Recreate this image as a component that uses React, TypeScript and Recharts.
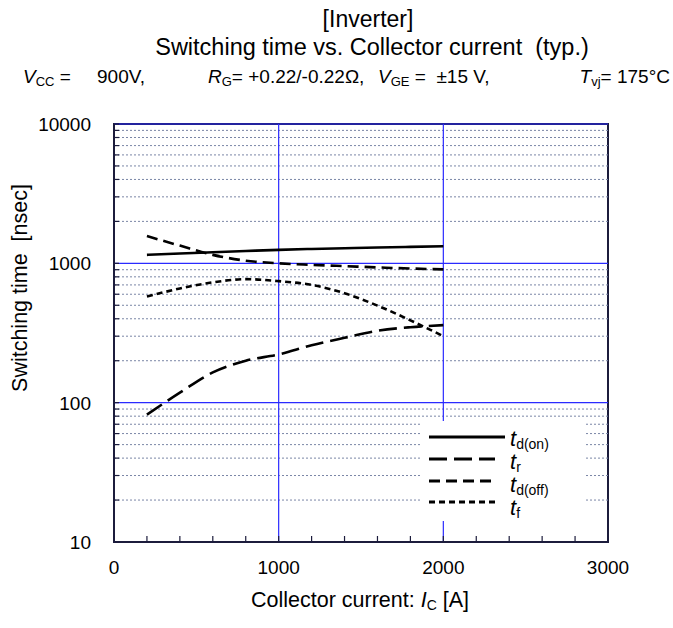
import React from 'react';
import {
  LineChart,
  Line,
  XAxis,
  YAxis,
  ReferenceLine,
  ReferenceArea,
  Legend,
} from 'recharts';

// collector current [A]
const currents = [200, 400, 600, 800, 1000, 1200, 1400, 1600, 1800, 2000];
// switching times [nsec]
const tdOn = [1150, 1175, 1200, 1225, 1250, 1268, 1283, 1298, 1312, 1325];
const tr = [82, 118, 165, 200, 222, 258, 292, 328, 348, 360];
const tdOff = [1570, 1340, 1150, 1045, 1000, 975, 955, 935, 918, 905];
const tf = [577, 660, 730, 770, 745, 700, 610, 497, 390, 300];

const xTicks = [0, 200, 400, 600, 800, 1000, 1200, 1400, 1600, 1800, 2000, 2200, 2400, 2600, 2800, 3000];
const xLabels = [0, 1000, 2000, 3000];
const yMajor = [10, 100, 1000, 10000];
const yMinor = [
  20, 30, 40, 50, 60, 70, 80, 90,
  200, 300, 400, 500, 600, 700, 800, 900,
  2000, 3000, 4000, 5000, 6000, 7000, 8000, 9000,
];
const xMajorGrid = [1000, 2000];

const series = [
  { key: 'tdOn', sub: 'd(on)', dash: undefined as string | undefined },
  { key: 'tr', sub: 'r', dash: '18 7' },
  { key: 'tdOff', sub: 'd(off)', dash: '11 6' },
  { key: 'tf', sub: 'f', dash: '6 4' },
];

const data = currents.map((ic, i) => ({
  ic,
  tdOn: tdOn[i],
  tr: tr[i],
  tdOff: tdOff[i],
  tf: tf[i],
}));

const FONT = '"Liberation Sans", Arial, sans-serif';
const BORDER = '#1c1c3c';
const MAJOR = '#2a2aff';
const MINOR = '#7a86a6';

function XTick({ x, y, payload }: any) {
  const show = xLabels.includes(payload.value);
  return (
    <g>
      <line x1={x} y1={y} x2={x} y2={y - 6} stroke={BORDER} strokeWidth={1.2} />
      {show && (
        <text x={x} y={y + 32} textAnchor="middle" fontSize={19} fill="#000" fontFamily={FONT}>
          {payload.value}
        </text>
      )}
    </g>
  );
}

function YTick({ x, y, payload }: any) {
  const show = yMajor.includes(payload.value);
  return (
    <g>
      <line x1={x} y1={y} x2={x + 5} y2={y} stroke={BORDER} strokeWidth={1.2} />
      {show && (
        <text x={x - 23} y={y + 7} textAnchor="end" fontSize={19} fill="#000" fontFamily={FONT}>
          {payload.value}
        </text>
      )}
    </g>
  );
}

function LegendBox() {
  const rows = [
    { y: 16, x2: 85, ty: 25 },
    { y: 38, x2: 75, ty: 48 },
    { y: 60, x2: 77, ty: 71 },
    { y: 81, x2: 78, ty: 94 },
  ];
  return (
    <div style={{ width: 165, height: 100, background: '#fff' }}>
      <svg width={165} height={100}>
        {series.map((s, i) => (
          <g key={s.key}>
            <line
              x1={9}
              x2={rows[i].x2}
              y1={rows[i].y}
              y2={rows[i].y}
              stroke="#000"
              strokeWidth={3}
              strokeDasharray={s.dash}
            />
            <text x={90} y={rows[i].ty} fontFamily={FONT} fill="#000">
              <tspan fontSize={22} fontStyle="italic">t</tspan>
              <tspan fontSize={14} dy={3}>{s.sub}</tspan>
            </text>
          </g>
        ))}
      </svg>
    </div>
  );
}

const text: React.CSSProperties = {
  position: 'absolute',
  fontFamily: FONT,
  color: '#000',
  whiteSpace: 'pre',
  lineHeight: 1,
};
const sub: React.CSSProperties = { fontSize: 13, verticalAlign: -3 };

export default function App() {
  return (
    <div style={{ position: 'absolute', left: 0, top: 0, width: 673, height: 628, background: '#fff' }}>
      <div style={{ ...text, left: 0, width: 736, top: 8, fontSize: 23, textAlign: 'center' }}>[Inverter]</div>
      <div style={{ ...text, left: 0, width: 744, top: 36, fontSize: 23.5, textAlign: 'center' }}>
        Switching time vs. Collector current  (typ.)
      </div>
      <div style={{ ...text, left: 23, top: 67, fontSize: 19 }}>
        <i>V</i><span style={sub}>CC</span> =
      </div>
      <div style={{ ...text, left: 97, top: 67, fontSize: 19 }}>900V,</div>
      <div style={{ ...text, left: 208, top: 67, fontSize: 19 }}>
        <i>R</i><span style={sub}>G</span>= +0.22/-0.22Ω,
      </div>
      <div style={{ ...text, left: 378, top: 67, fontSize: 19 }}>
        <i>V</i><span style={sub}>GE</span> =  ±15 V,
      </div>
      <div style={{ ...text, right: 3, top: 67, fontSize: 19 }}>
        <i>T</i><span style={sub}>vj</span>= 175°C
      </div>

      <LineChart
        width={673}
        height={628}
        data={data}
        margin={{ top: 124, right: 65, bottom: 46, left: 74 }}
      >
        <XAxis
          dataKey="ic"
          type="number"
          domain={[0, 3000]}
          ticks={xTicks}
          interval={0}
          tick={<XTick />}
          tickLine={false}
          tickSize={0}
          tickMargin={0}
          height={40}
          axisLine={{ stroke: BORDER, strokeWidth: 2 }}
        />
        <YAxis
          scale="log"
          type="number"
          domain={[10, 10000]}
          ticks={[...yMajor, ...yMinor]}
          interval={0}
          tick={<YTick />}
          tickLine={false}
          tickSize={0}
          tickMargin={0}
          width={40}
          allowDataOverflow
          axisLine={{ stroke: BORDER, strokeWidth: 2 }}
        />
        {yMinor.map((v) => (
          <ReferenceLine key={'m' + v} y={v} stroke={MINOR} strokeDasharray="2 2" strokeWidth={1} />
        ))}
        {yMajor.map((v) => (
          <ReferenceLine key={'M' + v} y={v} stroke={MAJOR} strokeWidth={1.2} />
        ))}
        {xMajorGrid.map((v) => (
          <ReferenceLine key={'x' + v} x={v} stroke={MAJOR} strokeWidth={1.2} />
        ))}
        <ReferenceArea x1={0} x2={3000} y1={10} y2={10000} fill="none" stroke={BORDER} strokeWidth={2} fillOpacity={0} />
        {series.map((s) => (
          <Line
            key={s.key}
            dataKey={s.key}
            type="monotone"
            stroke="#000"
            strokeWidth={2.6}
            strokeDasharray={s.dash}
            dot={false}
            activeDot={false}
            isAnimationActive={false}
          />
        ))}
        <Legend
          layout="vertical"
          align="center"
          verticalAlign="middle"
          content={() => <LegendBox />}
          wrapperStyle={{ position: 'absolute', left: 420, top: 421, width: 165, height: 100 }}
        />
      </LineChart>

      <div
        style={{
          ...text,
          left: 21,
          top: 288,
          fontSize: 21.5,
          transform: 'translate(-50%, -50%) rotate(-90deg)',
        }}
      >
        Switching time  [nsec]
      </div>
      <div style={{ ...text, left: 0, width: 720, top: 590, fontSize: 21.5, textAlign: 'center' }}>
        Collector current: <i>I</i><span style={{ fontSize: 14, verticalAlign: -3 }}>C</span> [A]
      </div>
    </div>
  );
}
